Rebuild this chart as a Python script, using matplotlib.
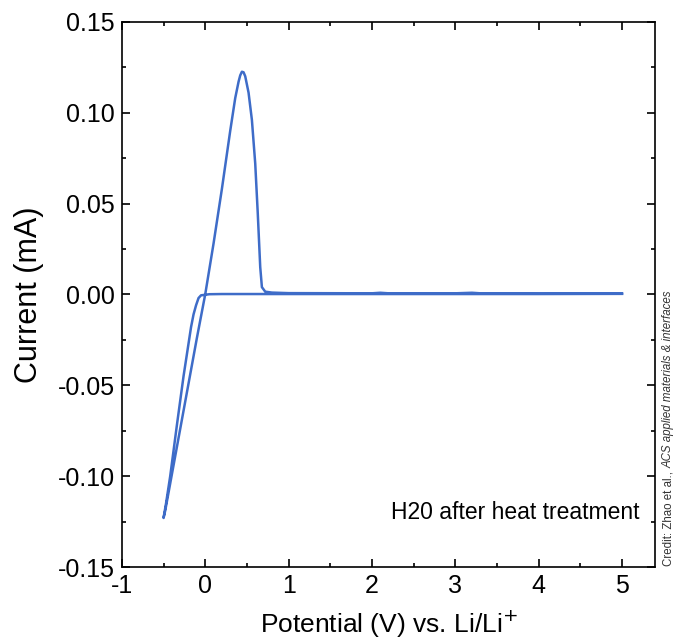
import matplotlib
matplotlib.use("Agg")
import matplotlib.pyplot as plt
from matplotlib.ticker import MultipleLocator, FormatStrFormatter

# -----------------------------
# Datos
# -----------------------------
# barrido catódico: 5 V -> -0.5 V
pot_cat = [5.0, 4.0, 3.0, 2.0, 1.0, 0.5, 0.2, 0.05, 0.0, -0.05, -0.08, -0.11,
           -0.14, -0.17, -0.2, -0.26, -0.34, -0.42, -0.47, -0.5]
cur_cat = [0.0003, 0.0002, 0.0002, 0.0002, 0.0002, 0.0002, 0.0002, 0.0001,
           -0.0002, -0.0005, -0.002, -0.006, -0.011, -0.018, -0.027, -0.045,
           -0.072, -0.100, -0.115, -0.123]

# barrido anódico: -0.5 V -> 5 V
pot_an = [-0.5, -0.48, -0.4, -0.3, -0.2, -0.1, 0.0, 0.1, 0.2, 0.3, 0.36, 0.4,
          0.42, 0.44, 0.46, 0.48, 0.52, 0.56, 0.6, 0.63, 0.66, 0.68, 0.72, 0.8,
          1.0, 2.0, 2.1, 2.2, 3.0, 3.2, 3.3, 4.0, 5.0]
cur_an = [-0.123, -0.119, -0.099, -0.074, -0.049, -0.024, 0.0, 0.028, 0.058,
          0.090, 0.108, 0.117, 0.1205, 0.1225, 0.1222, 0.120, 0.111, 0.096,
          0.072, 0.045, 0.015, 0.004, 0.0015, 0.001, 0.0007, 0.0006, 0.0009,
          0.0006, 0.0006, 0.0009, 0.0006, 0.0005, 0.0005]

LABEL = "H20 after heat treatment"
COLOR = "#3e6cc8"

plt.rcParams["font.family"] = ["Liberation Sans", "DejaVu Sans"]
plt.rcParams["axes.unicode_minus"] = False

fig = plt.figure(figsize=(6.77, 6.4), dpi=100)
ax = fig.add_axes([0.180, 0.114, 0.788, 0.852])

ax.plot(pot_cat + pot_an, cur_cat + cur_an, color=COLOR, lw=1.8)

ax.set_xlim(-1, 5.4)
ax.set_ylim(-0.15, 0.15)
ax.xaxis.set_major_locator(MultipleLocator(1))
ax.xaxis.set_minor_locator(MultipleLocator(0.5))
ax.yaxis.set_major_locator(MultipleLocator(0.05))
ax.yaxis.set_minor_locator(MultipleLocator(0.025))
ax.yaxis.set_major_formatter(FormatStrFormatter("%.2f"))

ax.tick_params(which="both", direction="in", top=True, right=True,
               labeltop=False, labelright=False, width=1.2)
ax.tick_params(which="major", length=6, labelsize=18, pad=5)
ax.tick_params(which="minor", length=3)
for s in ax.spines.values():
    s.set_linewidth(1.2)

ax.set_xlabel("Potential (V) vs. Li/Li$^{+}$", fontsize=19, labelpad=8)
ax.set_ylabel("Current (mA)", fontsize=22, labelpad=10)

ax.text(0.970, 0.1, LABEL, transform=ax.transAxes, ha="right", va="center",
        fontsize=16.5)

t1 = fig.text(0.987, 0.115, "Credit: Zhao et al., ", rotation=90,
              rotation_mode="anchor", ha="left", va="center", fontsize=8.3,
              color="#333333")
fig.canvas.draw()
ax.annotate("ACS applied materials & interfaces", xy=(0.5, 1), xycoords=t1,
            rotation=90, rotation_mode="anchor", ha="left", va="center",
            fontsize=8.3, style="italic", color="#333333",
            annotation_clip=False)

fig.savefig("out.png", dpi=100)
